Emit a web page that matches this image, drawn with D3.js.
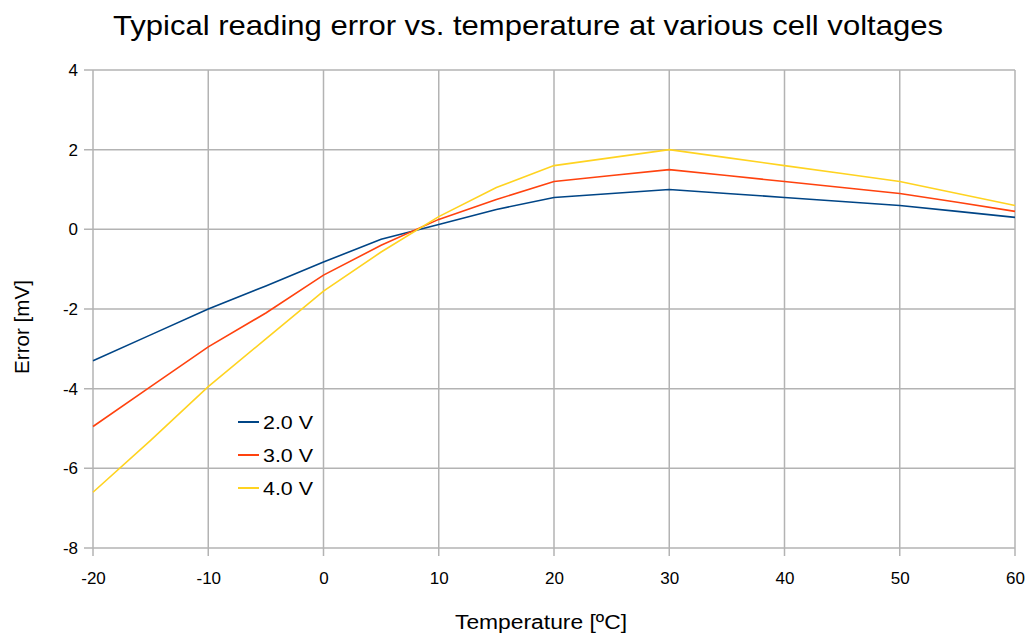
<!DOCTYPE html>
<html>
<head>
<meta charset="utf-8">
<script src="https://cdn.jsdelivr.net/npm/d3@7"></script>
<style>
  body { margin: 0; background: #fff; }
  text { font-family: "Liberation Sans", Arial, sans-serif; fill: #000; }
</style>
</head>
<body>
<div id="chart"></div>
<script>
// temperatures and readings (mV)
var temps = [-20, -15, -10, -5, 0, 5, 10, 15, 20, 25, 30, 35, 40, 45, 50, 55, 60];
var err2v = [-3.3, -2.65, -2.0, -1.42, -0.82, -0.25, 0.12, 0.5, 0.8, 0.9, 1.0, 0.9, 0.8, 0.7, 0.6, 0.45, 0.3];
var err3v = [-4.95, -3.95, -2.95, -2.1, -1.15, -0.4, 0.25, 0.75, 1.2, 1.35, 1.5, 1.35, 1.2, 1.05, 0.9, 0.68, 0.45];
var err4v = [-6.6, -5.3, -3.95, -2.75, -1.55, -0.57, 0.32, 1.05, 1.6, 1.8, 2.0, 1.8, 1.6, 1.4, 1.2, 0.9, 0.6];
var seriesNames = ["2.0 V", "3.0 V", "4.0 V"];
var seriesColors = ["#004586", "#ff420e", "#ffd320"];
var xTicks = [-20, -10, 0, 10, 20, 30, 40, 50, 60];
var yTicks = [-8, -6, -4, -2, 0, 2, 4];

var W = 1031, H = 640;
var pLeft = 93, pRight = 1015, pTop = 70, pBottom = 548;

var svg = d3.select("#chart").append("svg")
    .attr("width", W)
    .attr("height", H);

var x = d3.scaleLinear().domain([-20, 60]).range([pLeft, pRight]);
var y = d3.scaleLinear().domain([-8, 4]).range([pBottom, pTop]);

// grid + tick marks
svg.append("g").selectAll("line").data(xTicks).enter().append("line")
    .attr("x1", d => x(d)).attr("x2", d => x(d))
    .attr("y1", pTop).attr("y2", pBottom + 8)
    .attr("stroke", "#b3b3b3").attr("stroke-width", 1.5);
svg.append("g").selectAll("line").data(yTicks).enter().append("line")
    .attr("x1", pLeft - 9).attr("x2", pRight)
    .attr("y1", d => y(d)).attr("y2", d => y(d))
    .attr("stroke", "#b3b3b3").attr("stroke-width", 1.5);

// tick labels
var fmt = d => String(d);
var yAxis = d3.axisLeft(y).tickValues(yTicks).tickSize(0).tickPadding(15).tickFormat(fmt);
var gy = svg.append("g").attr("transform", "translate(" + pLeft + ",0)").call(yAxis);
gy.select(".domain").remove();
gy.selectAll("text").style("font-size", "17px").style("font-family", "Liberation Sans, Arial, sans-serif").attr("fill", "#000");

var xAxis = d3.axisBottom(x).tickValues(xTicks).tickSize(0).tickPadding(24).tickFormat(fmt);
var gx = svg.append("g").attr("transform", "translate(0," + pBottom + ")").call(xAxis);
gx.select(".domain").remove();
gx.selectAll("text").style("font-size", "17px").style("font-family", "Liberation Sans, Arial, sans-serif").attr("fill", "#000");

// lines
var all = [err2v, err3v, err4v];
var line = d3.line().x((d, i) => x(temps[i])).y(d => y(d));
svg.append("g").selectAll("path").data(all).enter().append("path")
    .attr("d", d => line(d))
    .attr("fill", "none")
    .attr("stroke", (d, i) => seriesColors[i])
    .attr("stroke-width", 1.6);

// legend
var lg = svg.append("g").attr("transform", "translate(238,422)");
seriesNames.forEach(function(n, i) {
  lg.append("line").attr("x1", 0).attr("x2", 21)
    .attr("y1", i * 33).attr("y2", i * 33)
    .attr("stroke", seriesColors[i]).attr("stroke-width", 2);
  lg.append("text").attr("x", 25).attr("y", i * 33 + 7)
    .style("font-size", "19px")
    .attr("textLength", 50).attr("lengthAdjust", "spacingAndGlyphs")
    .text(n);
});

// titles
svg.append("text").attr("x", 528).attr("y", 35)
    .attr("text-anchor", "middle").style("font-size", "28px")
    .attr("textLength", 830).attr("lengthAdjust", "spacingAndGlyphs")
    .text("Typical reading error vs. temperature at various cell voltages");
svg.append("text").attr("x", 541).attr("y", 629)
    .attr("text-anchor", "middle").style("font-size", "20px")
    .attr("textLength", 172).attr("lengthAdjust", "spacingAndGlyphs")
    .text("Temperature [ºC]");
svg.append("text")
    .attr("transform", "translate(29,327) rotate(-90)")
    .attr("text-anchor", "middle").style("font-size", "20px")
    .attr("textLength", 94).attr("lengthAdjust", "spacingAndGlyphs")
    .text("Error [mV]");
</script>
</body>
</html>
